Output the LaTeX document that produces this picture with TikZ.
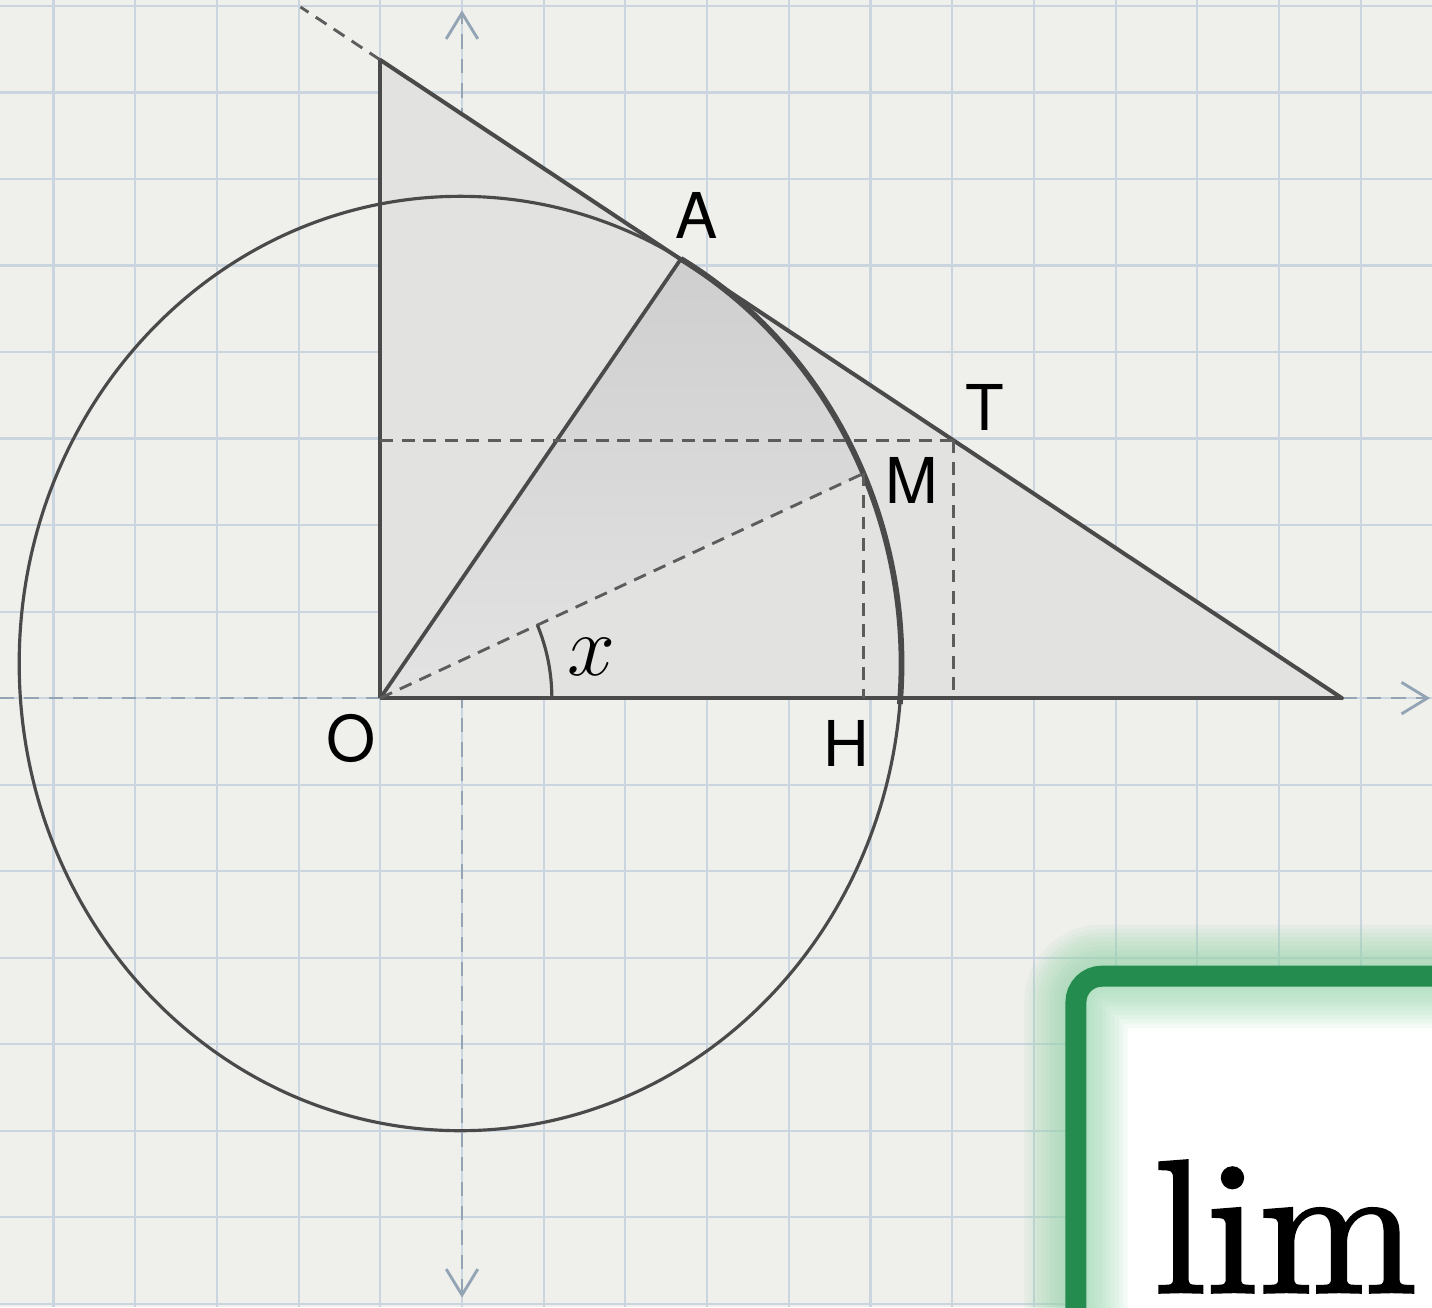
\RequirePackage{fix-cm}
\documentclass[tikz,border=0pt]{standalone}
\usepackage{fontspec}
\newfontfamily\ptfont{TeX Gyre Heros}
\newfontfamily\limfont{lmroman10-regular.otf}[FakeBold=1.6]
\usepackage{xcolor}
\usepackage{tikz}
\usetikzlibrary{arrows.meta,calc}

\definecolor{paper}{HTML}{EFEFEC}
\definecolor{gridblue}{HTML}{CBD5DF}
\definecolor{axisblue}{HTML}{93A4B4}
\definecolor{ink}{HTML}{4A4A4A}
\definecolor{trifill}{HTML}{E2E2E0}
\definecolor{boxgreen}{HTML}{238C4E}
\definecolor{glowgreen}{HTML}{8FD3A6}

\tikzset{
  ptlabel/.style={font=\ptfont\fontsize{22}{26}\selectfont, text=black, inner sep=0pt},
  helper/.style={ink!90, line width=1pt, dash pattern=on 4.5pt off 3pt},
  axisline/.style={axisblue, line width=0.9pt, dash pattern=on 5pt off 3.5pt},
}

\begin{document}
\begin{tikzpicture}[x=1cm, y=1.059cm, line width=1.4pt,
    >={Straight Barb[length=9pt, width=11pt, line width=1pt]}]
  \clip (-5.655,-7.04) rectangle (11.873,8.069);
  \fill[paper] (-5.655,-7.04) rectangle (11.873,8.069);
  % squared paper
  \foreach \u in {-5,...,11}{ \draw[gridblue, line width=0.75pt] (\u,-7.04) -- (\u,8.069); }
  \foreach \v in {-7,...,8}{ \draw[gridblue, line width=0.75pt] (-5.655,\v) -- (11.873,\v); }
  % axes
  \draw[axisline, ->] (-5.655,0) -- (11.85,0);
  \draw[axisline, <->] (0,-6.93) -- (0,7.95);

  \coordinate (O) at (-1,0);
  \coordinate (P) at (-1,7.376);
  \coordinate (Q) at (10.77,0);
  \coordinate (C) at (-0.02,0.4);
  \coordinate (A) at ($(C)+(60:5.4)$);
  \coordinate (M) at ($(C)+(24:5.4)$);
  \coordinate (H) at (M |- O);
  \coordinate (T) at ($(P)!0.596!(Q)$);
  \coordinate (Pext) at ($(P)!-0.083!(Q)$);

  % shaded triangle and sector
  \fill[trifill] (P) -- (O) -- (Q) -- cycle;
  \shade[top color=black!19, bottom color=black!11]
    (O) -- (A) arc[start angle=60, end angle=24, radius=5.4] -- cycle;

  % circle, thick arc
  \draw[ink, line width=1.1pt] (C) circle[radius=5.4];
  \draw[ink, line width=2pt] (A) arc[start angle=60, end angle=-5, radius=5.4];

  % triangle and tangent
  \draw[ink, line cap=round] (P) -- (Q);
  \draw[helper] (P) -- (Pext);
  \draw[ink] (O) -- (P);
  \draw[ink] (O) -- (Q);
  \draw[ink, line width=1.3pt] (O) -- (A);

  % dashed helpers
  \draw[helper] (O) -- (M);
  \draw[helper] (M) -- (H);
  \draw[helper] (O |- T) -- (T);
  \draw[helper] (T) -- (T |- O);

  % angle x
  \draw[ink, line width=1.1pt] ($(O)+(2.1,0)$) arc[start angle=0, end angle=23.7, radius=2.1];
  \node[inner sep=0pt, font=\fontsize{30}{34}\selectfont] (angx) at (1.59,0.47) {$x$};

  % point labels
  \node[ptlabel] (labA) at (2.876,5.58) {A};
  \node[ptlabel] (labT) at (6.40,3.36) {T};
  \node[ptlabel] (labM) at (5.51,2.51) {M};
  \node[ptlabel] (labH) at (4.71,-0.53) {H};
  \node[ptlabel] (labO) at (-1.36,-0.47) {O};

  % green result box
  \fill[white, rounded corners=9pt] (7.515,-3.214) rectangle (13,-9);
  \foreach \w in {36,33,...,9}{
    \draw[glowgreen, opacity=0.09, line width=\w pt, rounded corners=9pt] (7.515,-3.214) rectangle (13,-9);
  }
  \draw[boxgreen, line width=7.3pt, rounded corners=9pt] (7.515,-3.214) rectangle (13,-9);
  \node[anchor=base west, inner sep=0pt, font=\limfont\fontsize{66}{70}\selectfont] (lim) at (8.44,-6.867) {lim};
\end{tikzpicture}
\end{document}
